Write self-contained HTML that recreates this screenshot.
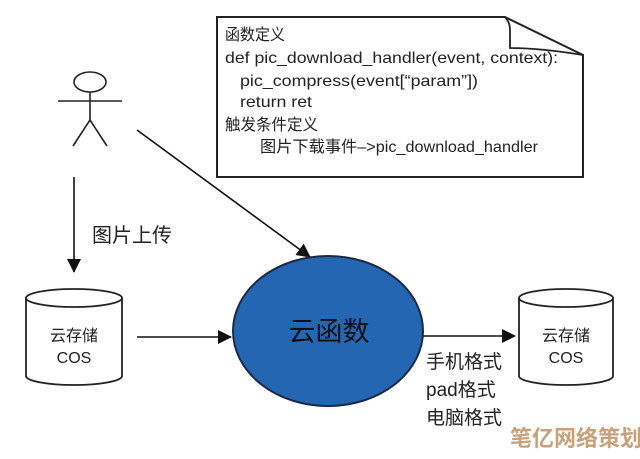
<!DOCTYPE html>
<html><head><meta charset="utf-8"><style>
html,body{margin:0;padding:0;background:#fff;}
svg{display:block;}
text{font-family:"Liberation Sans","Noto Sans CJK SC",sans-serif;fill:#222;}
</style></head><body>
<svg width="640" height="459" viewBox="0 0 640 459" xmlns="http://www.w3.org/2000/svg">
<defs>
<marker id="ahb" markerWidth="14" markerHeight="14" refX="13" refY="7" orient="auto" markerUnits="userSpaceOnUse">
<path d="M0,0 L14,7 L0,14 z" fill="#111"/>
</marker>
</defs>
<!-- code box -->
<path d="M217,17 L505,17 L583,55 L583,177 L217,177 Z" fill="#fff" stroke="#222" stroke-width="2"/>
<path d="M505,17 Q510,22 510,30 L510,48 Q540,48 583,55" fill="none" stroke="#222" stroke-width="1.8"/>
<g font-size="16">
<text x="225" y="40" textLength="60" lengthAdjust="spacingAndGlyphs">函数定义</text>
<text x="225" y="63" textLength="333" lengthAdjust="spacingAndGlyphs">def pic_download_handler(event, context):</text>
<text x="240" y="86" textLength="238" lengthAdjust="spacingAndGlyphs">pic_compress(event[“param”])</text>
<text x="240" y="107" textLength="72" lengthAdjust="spacingAndGlyphs">return ret</text>
<text x="225" y="130" textLength="93" lengthAdjust="spacingAndGlyphs">触发条件定义</text>
<text x="260" y="152" textLength="278" lengthAdjust="spacingAndGlyphs">图片下载事件–&gt;pic_download_handler</text>
</g>
<!-- stick figure -->
<g stroke="#222" stroke-width="1.6" fill="none">
<ellipse cx="90" cy="82" rx="16" ry="10"/>
<line x1="90" y1="92" x2="90" y2="120"/>
<line x1="58" y1="101" x2="122" y2="101"/>
<line x1="90" y1="120" x2="73" y2="146"/>
<line x1="90" y1="120" x2="107" y2="146"/>
</g>
<!-- arrows -->
<line x1="74" y1="177" x2="74" y2="272" stroke="#111" stroke-width="1.6" marker-end="url(#ahb)"/>
<line x1="137" y1="130" x2="310" y2="257" stroke="#111" stroke-width="1.6" marker-end="url(#ahb)"/>
<line x1="137" y1="337" x2="231" y2="337" stroke="#111" stroke-width="1.6" marker-end="url(#ahb)"/>
<line x1="423" y1="336" x2="515" y2="336" stroke="#111" stroke-width="1.6" marker-end="url(#ahb)"/>
<text x="92" y="242" font-size="20">图片上传</text>
<!-- left cylinder -->
<g stroke="#222" stroke-width="1.8" fill="#fff">
<path d="M26,298 L26,376 A48,9 0 0 0 122,376 L122,298"/>
<ellipse cx="74" cy="298" rx="48" ry="9"/>
</g>
<text x="74" y="341" font-size="16" text-anchor="middle">云存储</text>
<text x="74" y="363" font-size="16" text-anchor="middle">COS</text>
<!-- right cylinder -->
<g stroke="#222" stroke-width="1.8" fill="#fff">
<path d="M519,298 L519,376 A47,9 0 0 0 613,376 L613,298"/>
<ellipse cx="566" cy="298" rx="47" ry="9"/>
</g>
<text x="566" y="341" font-size="16" text-anchor="middle">云存储</text>
<text x="566" y="363" font-size="16" text-anchor="middle">COS</text>
<!-- ellipse -->
<ellipse cx="328" cy="331" rx="95" ry="75" fill="#2566b3" stroke="#1a2a44" stroke-width="2"/>
<text x="329" y="341" font-size="27" text-anchor="middle" style="fill:#111">云函数</text>
<g font-size="19">
<text x="426" y="368">手机格式</text>
<text x="426" y="396">pad格式</text>
<text x="426" y="424">电脑格式</text>
</g>
<text x="510" y="446" font-size="22" font-weight="bold" style="fill:#c8a07a">笔亿网络策划</text>
</svg>
</body></html>
